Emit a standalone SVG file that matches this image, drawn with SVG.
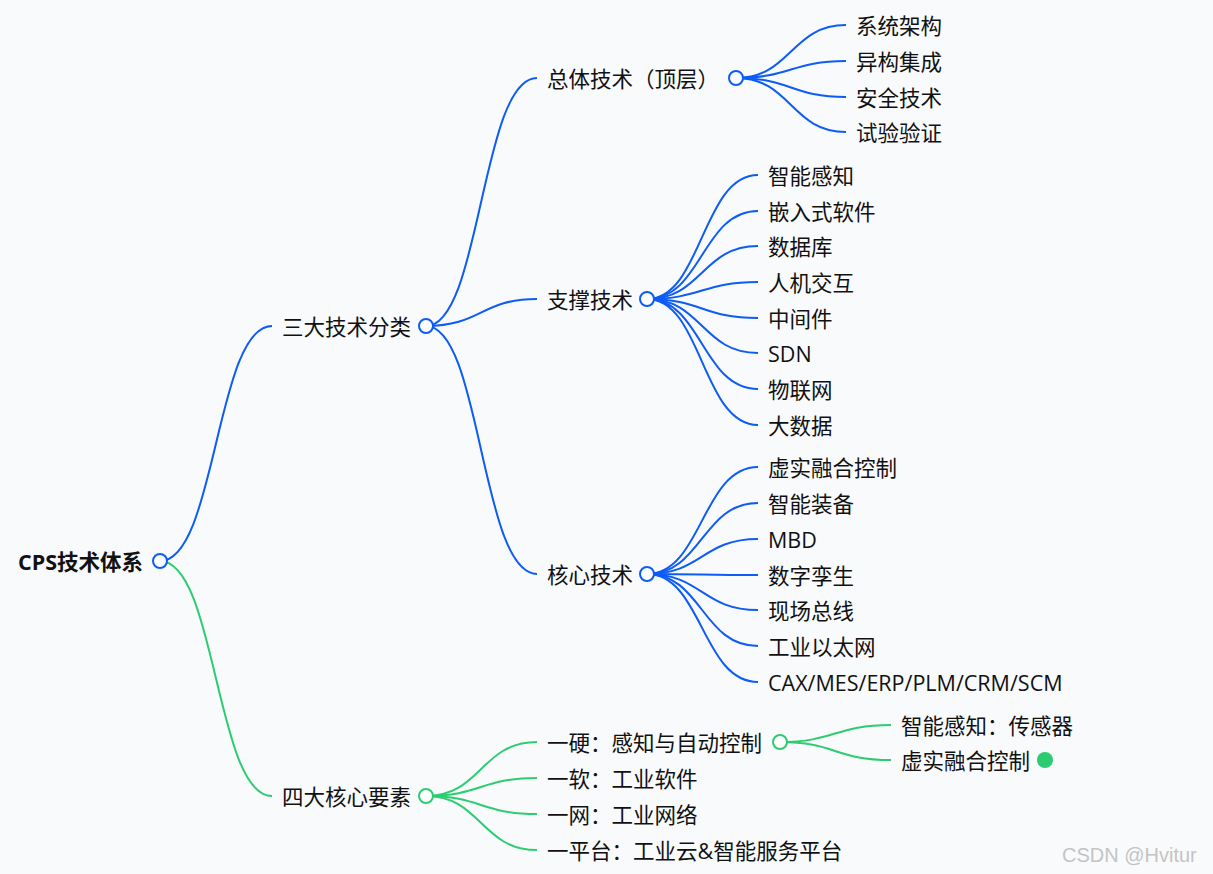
<svg xmlns="http://www.w3.org/2000/svg" width="1213" height="874" viewBox="0 0 1213 874">
<style>
text{font-family:"Open Sans","Noto Sans CJK SC",sans-serif;font-size:21.5px;fill:#111;dominant-baseline:central}
.b path{stroke:#0d5cf5;stroke-width:2;fill:none}
.g path{stroke:#2ecc71;stroke-width:2;fill:none}
.cb{fill:#fff;stroke:#0d5cf5;stroke-width:2}
.cg{fill:#fff;stroke:#2ecc71;stroke-width:2}
</style>
<rect width="1213" height="874" fill="#f8fafc"/>
<g id="connectors">
<g class="b">
<path d="M160 561 C216 561 216 326 272 326"/>
<path d="M426 326 C481 326 481 78 537 78"/>
<path d="M426 326 C481 326 481 299 537 299"/>
<path d="M426 326 C481 326 481 574 537 574"/>
<path d="M736 78 C791 78 791 25 846 25"/>
<path d="M736 78 C791 78 791 61 846 61"/>
<path d="M736 78 C791 78 791 97 846 97"/>
<path d="M736 78 C791 78 791 132 846 132"/>
<path d="M647 299 C702 299 702 175 758 175"/>
<path d="M647 299 C702 299 702 211 758 211"/>
<path d="M647 299 C702 299 702 246 758 246"/>
<path d="M647 299 C702 299 702 282 758 282"/>
<path d="M647 299 C702 299 702 318 758 318"/>
<path d="M647 299 C702 299 702 353 758 353"/>
<path d="M647 299 C702 299 702 389 758 389"/>
<path d="M647 299 C702 299 702 425 758 425"/>
<path d="M647 574 C702 574 702 467 758 467"/>
<path d="M647 574 C702 574 702 503 758 503"/>
<path d="M647 574 C702 574 702 539 758 539"/>
<path d="M647 574 C702 574 702 575 758 575"/>
<path d="M647 574 C702 574 702 610 758 610"/>
<path d="M647 574 C702 574 702 646 758 646"/>
<path d="M647 574 C702 574 702 682 758 682"/>
</g>
<g class="g">
<path d="M160 561 C216 561 216 796 272 796"/>
<path d="M426 796 C481 796 481 742 537 742"/>
<path d="M426 796 C481 796 481 778 537 778"/>
<path d="M426 796 C481 796 481 814 537 814"/>
<path d="M426 796 C481 796 481 850 537 850"/>
<path d="M780 742 C835 742 835 725 891 725"/>
<path d="M780 742 C835 742 835 760 891 760"/>
</g>
</g>
<g id="root"><text x="18" y="561" style="font-weight:bold">CPS技术体系</text><circle class="cb" cx="160" cy="561" r="7"/></g>
<g id="n-sanda"><text x="282" y="326">三大技术分类</text><circle class="cb" cx="426" cy="326" r="7"/></g>
<g id="n-zongti"><text x="547" y="78">总体技术（顶层）</text><circle class="cb" cx="736" cy="78" r="7"/></g>
<g id="n-zhicheng"><text x="547" y="299">支撑技术</text><circle class="cb" cx="647" cy="299" r="7"/></g>
<g id="n-hexin"><text x="547" y="574">核心技术</text><circle class="cb" cx="647" cy="574" r="7"/></g>
<g id="l1"><text x="856" y="25">系统架构</text></g>
<g id="l2"><text x="856" y="61">异构集成</text></g>
<g id="l3"><text x="856" y="97">安全技术</text></g>
<g id="l4"><text x="856" y="132">试验验证</text></g>
<g id="s1"><text x="768" y="175">智能感知</text></g>
<g id="s2"><text x="768" y="211">嵌入式软件</text></g>
<g id="s3"><text x="768" y="246">数据库</text></g>
<g id="s4"><text x="768" y="282">人机交互</text></g>
<g id="s5"><text x="768" y="318">中间件</text></g>
<g id="s6"><text x="768" y="353">SDN</text></g>
<g id="s7"><text x="768" y="389">物联网</text></g>
<g id="s8"><text x="768" y="425">大数据</text></g>
<g id="h1"><text x="768" y="467">虚实融合控制</text></g>
<g id="h2"><text x="768" y="503">智能装备</text></g>
<g id="h3"><text x="768" y="539">MBD</text></g>
<g id="h4"><text x="768" y="575">数字孪生</text></g>
<g id="h5"><text x="768" y="610">现场总线</text></g>
<g id="h6"><text x="768" y="646">工业以太网</text></g>
<g id="h7"><text x="768" y="682">CAX/MES/ERP/PLM/CRM/SCM</text></g>
<g id="n-sida"><text x="282" y="796">四大核心要素</text><circle class="cg" cx="426" cy="796" r="7"/></g>
<g id="g1"><text x="547" y="742">一硬：感知与自动控制</text><circle class="cg" cx="780" cy="742" r="7"/></g>
<g id="g2"><text x="547" y="778">一软：工业软件</text></g>
<g id="g3"><text x="547" y="814">一网：工业网络</text></g>
<g id="g4"><text x="547" y="850">一平台：工业云&amp;智能服务平台</text></g>
<g id="g11"><text x="901" y="725">智能感知：传感器</text></g>
<g id="g12"><text x="901" y="760">虚实融合控制</text><circle cx="1045" cy="760" r="8" fill="#2ecc71"/></g>
<text x="1062" y="855" style="font-size:20px;fill:#c4c4c4;font-family:'Liberation Sans',sans-serif">CSDN @Hvitur</text>
</svg>
